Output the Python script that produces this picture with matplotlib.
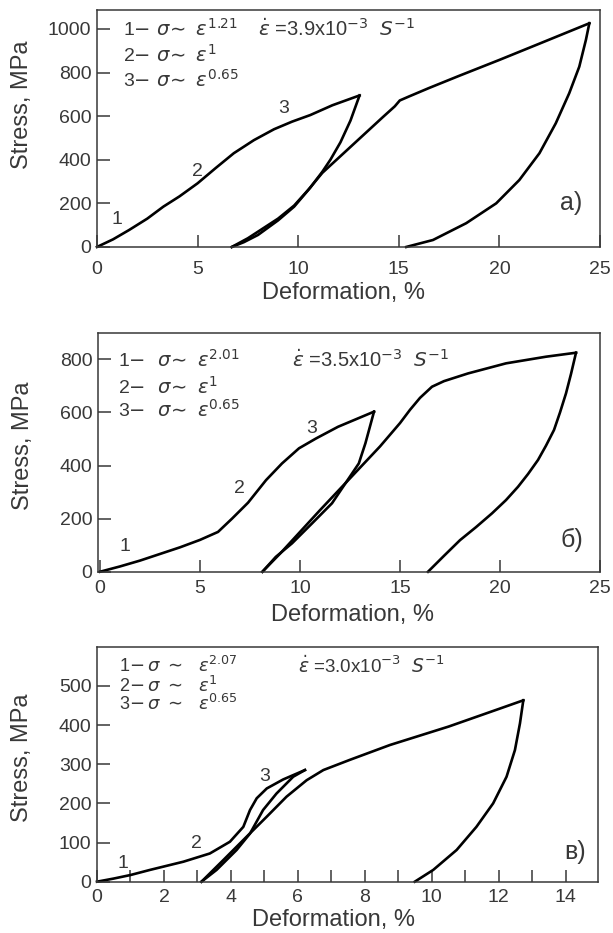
import matplotlib
matplotlib.use("Agg")
import matplotlib.pyplot as plt
from matplotlib.ticker import MultipleLocator

plt.rcParams['font.family'] = ['Liberation Sans', 'DejaVu Sans']
plt.rcParams['mathtext.fontset'] = 'dejavusans'

# Panel a) - strain rate 3.9e-3 1/s
a_load1_x = [0, 0.8, 1.6, 2.5, 3.3, 4.1, 5.0, 5.9, 6.8, 7.8, 8.8, 9.7, 10.6, 11.7, 13.05]
a_load1_y = [0, 35, 78, 130, 185, 232, 292, 362, 430, 490, 540, 575, 605, 650, 695]
a_unload1_x = [13.05, 12.6, 12.1, 11.6, 11.2, 10.6, 9.8, 9.0, 8.0, 7.3, 6.7]
a_unload1_y = [695, 580, 480, 400, 345, 272, 185, 122, 55, 22, 0]
a_load2_x = [6.7, 7.5, 8.3, 9.0, 9.8, 10.5, 11.2, 12.2, 13.2, 14.2, 14.8, 15.05, 15.5, 16.5, 18, 20, 22, 24.47]
a_load2_y = [0, 40, 88, 130, 190, 262, 340, 425, 510, 595, 645, 672, 690, 729, 785, 858, 933, 1026]
a_unload2_x = [24.47, 24.3, 23.97, 23.47, 22.8, 21.99, 20.99, 19.84, 18.35, 16.7, 15.37]
a_unload2_y = [1026, 950, 827, 705, 567, 430, 307, 200, 109, 32, 0]

# Panel б)
b_load1_x = [0, 1, 2, 3, 4, 5, 5.9, 6.6, 7.4, 8.3, 9.1, 9.95, 10.8, 11.9, 13.7]
b_load1_y = [0, 20, 42, 67, 92, 120, 150, 200, 260, 345, 408, 465, 502, 546, 603]
b_unload1_x = [13.7, 13.27, 12.94, 12.27, 11.6, 10.6, 9.6, 8.79, 8.12]
b_unload1_y = [603, 484, 408, 333, 258, 182, 107, 56, 0]
b_load2_x = [8.12, 9, 10, 11, 12, 13, 14, 15, 15.5, 16, 16.6, 17.2, 18.4, 20.3, 22.3, 23.8]
b_load2_y = [0, 68, 150, 232, 312, 392, 472, 560, 610, 655, 697, 718, 747, 785, 810, 825]
b_unload2_x = [23.8, 23.55, 23.3, 23.0, 22.7, 22.3, 21.9, 21.4, 20.9, 20.3, 19.6, 18.8, 18.0, 17.2, 16.4]
b_unload2_y = [825, 745, 672, 600, 534, 475, 421, 368, 320, 270, 220, 168, 119, 60, 0]

# Panel в)
c_load1_x = [0, 0.5, 1.0, 1.58, 2.58, 3.37, 3.97, 4.37, 4.57, 4.77, 5.07, 5.56, 6.21]
c_load1_y = [0, 8, 17, 30, 51, 72, 102, 140, 183, 213, 238, 261, 285]
c_unload1_x = [6.21, 5.86, 5.36, 4.96, 4.57, 4.17, 3.57, 3.12]
c_unload1_y = [285, 268, 225, 183, 123, 81, 30, 0]
c_load2_x = [3.12, 3.77, 4.47, 5.07, 5.66, 6.26, 6.76, 7.55, 8.75, 10.5, 12, 12.73]
c_load2_y = [0, 55, 115, 166, 217, 259, 285, 311, 349, 396, 441, 463]
c_unload2_x = [12.73, 12.63, 12.48, 12.23, 11.83, 11.33, 10.74, 10.04, 9.49]
c_unload2_y = [463, 404, 336, 268, 200, 140, 81, 30, 0]

exponents = [["1.21", "1", "0.65"], ["2.01", "1", "0.65"], ["2.07", "1", "0.65"]]
rates = ["3.9", "3.5", "3.0"]
tags = ["a)", "б)", "в)"]

grey = '#383838'
fig = plt.figure(figsize=(6.13, 9.33), dpi=100)

ax_a = fig.add_axes([0.1582, 0.7353, 0.8206, 0.2540])
ax_b = fig.add_axes([0.1599, 0.3872, 0.8189, 0.2558])
ax_c = fig.add_axes([0.1582, 0.0550, 0.8173, 0.2519])
axes = [ax_a, ax_b, ax_c]

curves = [
    [(a_load1_x, a_load1_y), (a_unload1_x, a_unload1_y), (a_load2_x, a_load2_y), (a_unload2_x, a_unload2_y)],
    [(b_load1_x, b_load1_y), (b_unload1_x, b_unload1_y), (b_load2_x, b_load2_y), (b_unload2_x, b_unload2_y)],
    [(c_load1_x, c_load1_y), (c_unload1_x, c_unload1_y), (c_load2_x, c_load2_y), (c_unload2_x, c_unload2_y)],
]

for ax, cs in zip(axes, curves):
    for xs, ys in cs:
        ax.plot(xs, ys, color='black', lw=1.9, solid_joinstyle='round', clip_on=False)
    for s in ax.spines.values():
        s.set_linewidth(1.1)
        s.set_color(grey)
    ax.tick_params(direction='in', length=9, width=1.1, labelsize=14,
                   colors=grey, top=False, right=False)
    ax.tick_params(axis='y', pad=4)

# axis ranges and ticks
ax_a.set_xlim(0, 25)
ax_a.set_ylim(0, 1087)
ax_a.xaxis.set_major_locator(MultipleLocator(5))
ax_a.yaxis.set_major_locator(MultipleLocator(200))
ax_a.tick_params(axis='x', pad=10)

ax_b.set_xlim(-0.1, 25)
ax_b.set_ylim(0, 899)
ax_b.xaxis.set_major_locator(MultipleLocator(5))
ax_b.set_yticks([0, 200, 400, 600, 800])
ax_b.tick_params(axis='x', pad=6)

ax_c.set_xlim(0, 14.96)
ax_c.set_ylim(0, 600)
ax_c.xaxis.set_major_locator(MultipleLocator(2))
ax_c.xaxis.set_minor_locator(MultipleLocator(1))
ax_c.set_yticks([0, 100, 200, 300, 400, 500])
ax_c.tick_params(axis='x', pad=5)
ax_c.tick_params(axis='x', which='minor', direction='in', length=9, width=1.1, colors=grey)

# axis labels
label_pos = [((0.49, -0.194), (-0.149, 0.60)),
             ((0.506, -0.18), (-0.149, 0.53)),
             ((0.473, -0.163), (-0.149, 0.526))]
for ax, (xp, yp) in zip(axes, label_pos):
    ax.set_xlabel("Deformation, %", fontsize=17, color=grey, va='center')
    ax.set_ylabel("Stress, MPa", fontsize=17, color=grey, va='center')
    ax.xaxis.set_label_coords(*xp)
    ax.yaxis.set_label_coords(*yp)

# formula text in the upper left corner
leg_x = [1.3, 0.9, 0.65]
leg_y = [[1000, 881, 766], [797, 697, 609], [550, 500, 453]]
leg_size = [14, 14, 13]
rate_x = [8.0, 9.6, 6.0]
formats = [r"%d$-\ \sigma\!\sim\ \varepsilon^{%s}$",
           r"%d$-\ \ \sigma\!\sim\ \varepsilon^{%s}$",
           r"%d$-\,\sigma\ \sim\ \ \varepsilon^{%s}$"]
for i, ax in enumerate(axes):
    for j in range(3):
        ax.text(leg_x[i], leg_y[i][j], formats[i] % (j + 1, exponents[i][j]),
                fontsize=leg_size[i], color=grey, va='center', ha='left')
    ax.text(rate_x[i], leg_y[i][0], r"$\dot{\varepsilon}$ =%sx10$^{-3}$  $S^{-1}$" % rates[i],
            fontsize=leg_size[i] + 0.5, color=grey, va='center', ha='left')

# curve numbers
num_pos = [[(1.0, 124), (5.0, 345), (9.3, 636)],
           [(1.25, 94), (6.97, 314), (10.6, 540)],
           [(0.78, 47), (2.97, 98), (5.0, 268)]]
for ax, pos in zip(axes, num_pos):
    for k, (x, y) in enumerate(pos):
        ax.text(x, y, str(k + 1), fontsize=14, color=grey, ha='center', va='center')

tag_pos = [(23.56, 200), (23.6, 119), (14.27, 77)]
for ax, t, (x, y) in zip(axes, tags, tag_pos):
    ax.text(x, y, t, fontsize=18, color=grey, ha='center', va='center')

fig.savefig("out.png", dpi=100)
